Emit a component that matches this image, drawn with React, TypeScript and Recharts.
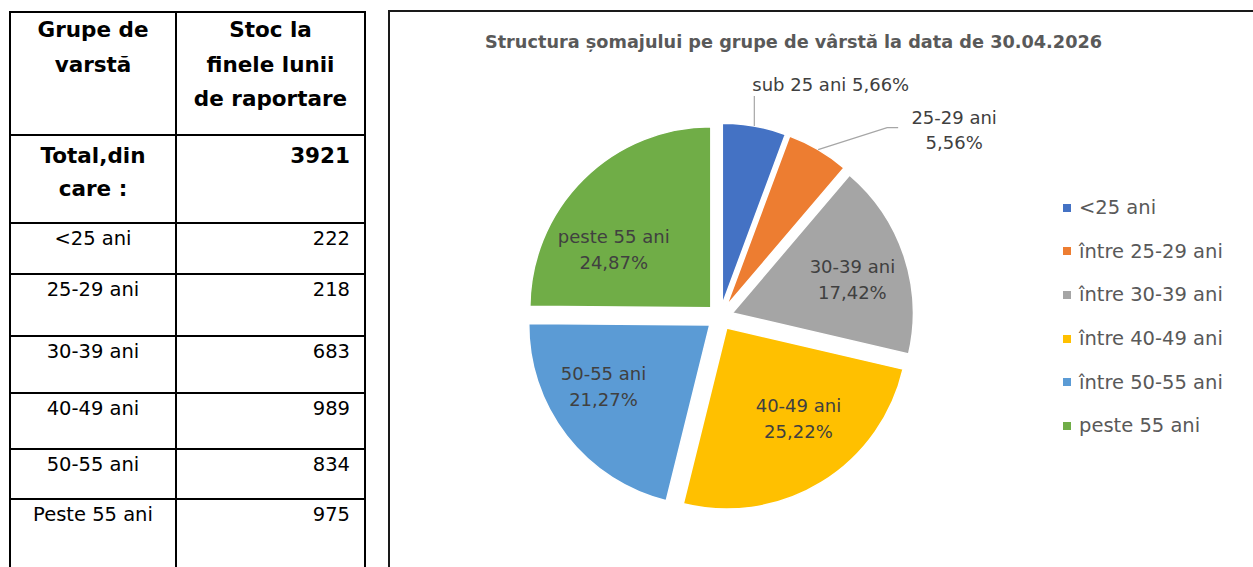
import { PieChart, Pie, Cell, Legend } from "recharts";

// Data
const tableGroups = ["<25 ani", "25-29 ani", "30-39 ani", "40-49 ani", "50-55 ani", "Peste 55 ani"];
const stockValues = [222, 218, 683, 989, 834, 975];
const sliceLabels = ["sub 25 ani", "25-29 ani", "30-39 ani", "40-49 ani", "50-55 ani", "peste 55 ani"];
const legendNames = ["<25 ani", "între 25-29 ani", "între 30-39 ani", "între 40-49 ani", "între 50-55 ani", "peste 55 ani"];
const sliceColors = ["#4472C4", "#ED7D31", "#A5A5A5", "#FFC000", "#5B9BD5", "#70AD47"];

const chartTitle = "Structura șomajului pe grupe de vârstă la data de 30.04.2026";

const totalStock = stockValues.reduce((a, b) => a + b, 0);
const pieData = stockValues.map((value, i) => ({ name: legendNames[i], value }));

// Layout
const FONT = "'DejaVu Sans', Verdana, sans-serif";
const CX = 330;
const CY = 305;
const RADIUS = 181;
const EXPLODE = 13;
const INNER_LABEL_R = 118;
const RADIAN = Math.PI / 180;

// table lines (page y of each 2px row rule)
const rowRules = [134, 222, 273, 335, 392, 448, 498];
const rowTops = [224, 275, 337, 394, 450, 500];

// nudges for the inside labels, in px
const labelNudge: Array<[number, number]> = [[0, 0], [0, 0], [8, 4], [10, -10], [-13, -11], [-14, 26]];

const midAngles = (() => {
	let cum = 0;
	return stockValues.map((v) => {
		const mid = 90 - (360 * (cum + v / 2)) / totalStock;
		cum += v;
		return mid;
	});
})();

const pct = (v: number) => ((v / totalStock) * 100).toFixed(2).replace(".", ",") + "%";

const labelText = { fill: "#404040", fontSize: 18, fontFamily: FONT };

const renderSliceLabel = (props: any) => {
	const { cx, cy, midAngle, outerRadius, index } = props;
	const cos = Math.cos(-midAngle * RADIAN);
	const sin = Math.sin(-midAngle * RADIAN);
	const text = pct(stockValues[index]);
	if (index === 0) {
		const px = cx + outerRadius * cos;
		const py = cy + outerRadius * sin;
		return (
			<g>
				<line x1={px} y1={py} x2={px} y2={py - 30} stroke="#A6A6A6" strokeWidth={1.2} />
				<text x={px - 2} y={py - 42} textAnchor="start" dominantBaseline="central" {...labelText}>
					{sliceLabels[index] + " " + text}
				</text>
			</g>
		);
	}
	if (index === 1) {
		const px = cx + outerRadius * cos;
		const py = cy + outerRadius * sin;
		return (
			<g>
				<polyline
					points={`${px},${py} ${px + 69},${py - 22} ${px + 80},${py - 22}`}
					fill="none"
					stroke="#A6A6A6"
					strokeWidth={1.2}
				/>
				<text x={px + 136} y={py - 32} textAnchor="middle" dominantBaseline="central" {...labelText}>
					{sliceLabels[index]}
				</text>
				<text x={px + 136} y={py - 7} textAnchor="middle" dominantBaseline="central" {...labelText}>
					{text}
				</text>
			</g>
		);
	}
	const x = cx + INNER_LABEL_R * cos + labelNudge[index][0];
	const y = cy + INNER_LABEL_R * sin + labelNudge[index][1];
	return (
		<g>
			<text x={x} y={y - 13} textAnchor="middle" dominantBaseline="central" {...labelText}>
				{sliceLabels[index]}
			</text>
			<text x={x} y={y + 13} textAnchor="middle" dominantBaseline="central" {...labelText}>
				{text}
			</text>
		</g>
	);
};

const LegendBox = () => (
	<div style={{ fontFamily: FONT, fontSize: 19.5, color: "#595959" }}>
		{legendNames.map((n, i) => (
			<div key={n} style={{ height: 43.6, display: "flex", alignItems: "center", whiteSpace: "nowrap" }}>
				<span style={{ display: "inline-block", width: 8, height: 8, background: sliceColors[i], marginRight: 8 }} />
				{n}
			</div>
		))}
	</div>
);

const cellText = (extra: any) => ({
	position: "absolute" as const,
	fontFamily: FONT,
	color: "#000",
	...extra,
});

function DataTable() {
	return (
		<>
			<div
				style={{
					position: "absolute",
					left: 9,
					top: 11,
					width: 357,
					height: 600,
					border: "2px solid #000",
					boxSizing: "border-box",
				}}
			/>
			<div style={{ position: "absolute", left: 175, top: 11, width: 2, height: 600, background: "#000" }} />
			{rowRules.map((y) => (
				<div key={y} style={{ position: "absolute", left: 9, top: y, width: 357, height: 2, background: "#000" }} />
			))}

			{/* header */}
			<div
				style={cellText({
					left: 11,
					top: 13,
					width: 164,
					textAlign: "center",
					fontWeight: "bold",
					fontSize: 21.5,
					lineHeight: "34.5px",
				})}
			>
				Grupe de
				<br />
				varstă
			</div>
			<div
				style={cellText({
					left: 177,
					top: 13,
					width: 187,
					textAlign: "center",
					fontWeight: "bold",
					fontSize: 21.5,
					lineHeight: "34.5px",
				})}
			>
				Stoc la
				<br />
				finele lunii
				<br />
				de raportare
			</div>

			{/* total */}
			<div
				style={cellText({
					left: 11,
					top: 138.5,
					width: 164,
					textAlign: "center",
					fontWeight: "bold",
					fontSize: 21.5,
					lineHeight: "33px",
				})}
			>
				Total,din
				<br />
				care :
			</div>
			<div
				style={cellText({
					left: 177,
					top: 138.5,
					width: 173,
					textAlign: "right",
					fontWeight: "bold",
					fontSize: 21.5,
					lineHeight: "33px",
				})}
			>
				{totalStock}
			</div>

			{tableGroups.map((g, i) => (
				<div key={g}>
					<div
						style={cellText({
							left: 11,
							top: rowTops[i] + 4,
							width: 164,
							textAlign: "center",
							fontSize: 19.5,
							lineHeight: "22px",
						})}
					>
						{g}
					</div>
					<div
						style={cellText({
							left: 177,
							top: rowTops[i] + 4,
							width: 173,
							textAlign: "right",
							fontSize: 19.5,
							lineHeight: "22px",
						})}
					>
						{stockValues[i]}
					</div>
				</div>
			))}
		</>
	);
}

export default function App() {
	return (
		<div style={{ position: "absolute", left: 0, top: 0, width: 1253, height: 567, overflow: "hidden", background: "#fff" }}>
			<DataTable />

			<div
				style={{
					position: "absolute",
					left: 388,
					top: 10,
					width: 900,
					height: 600,
					border: "2px solid #1a1a1a",
					boxSizing: "border-box",
				}}
			/>

			<div
				style={{
					position: "absolute",
					left: 793.5,
					top: 31,
					transform: "translateX(-50%)",
					whiteSpace: "nowrap",
					fontFamily: FONT,
					fontWeight: "bold",
					fontSize: 17.7,
					lineHeight: "22px",
					color: "#595959",
				}}
			>
				{chartTitle}
			</div>

			<div style={{ position: "absolute", left: 390, top: 12 }}>
				<PieChart width={863} height={555} margin={{ top: 0, right: 0, bottom: 0, left: 0 }}>
					{stockValues.map((_, k) => (
						<Pie
							key={k}
							data={pieData}
							dataKey="value"
							nameKey="name"
							cx={CX + EXPLODE * Math.cos(-midAngles[k] * RADIAN)}
							cy={CY + EXPLODE * Math.sin(-midAngles[k] * RADIAN)}
							outerRadius={RADIUS}
							startAngle={90}
							endAngle={-270}
							labelLine={false}
							label={(p: any) => (p.index === k ? renderSliceLabel(p) : null)}
							isAnimationActive={false}
						>
							{pieData.map((d, i) => (
								<Cell
									key={d.name}
									fill={i === k ? sliceColors[i] : "none"}
									stroke={i === k ? "#fff" : "none"}
									strokeWidth={1.5}
								/>
							))}
						</Pie>
					))}
					<Legend
						layout="vertical"
						verticalAlign="top"
						align="right"
						wrapperStyle={{ left: 673, top: 174, width: 190 }}
						content={() => <LegendBox />}
					/>
				</PieChart>
			</div>
		</div>
	);
}
